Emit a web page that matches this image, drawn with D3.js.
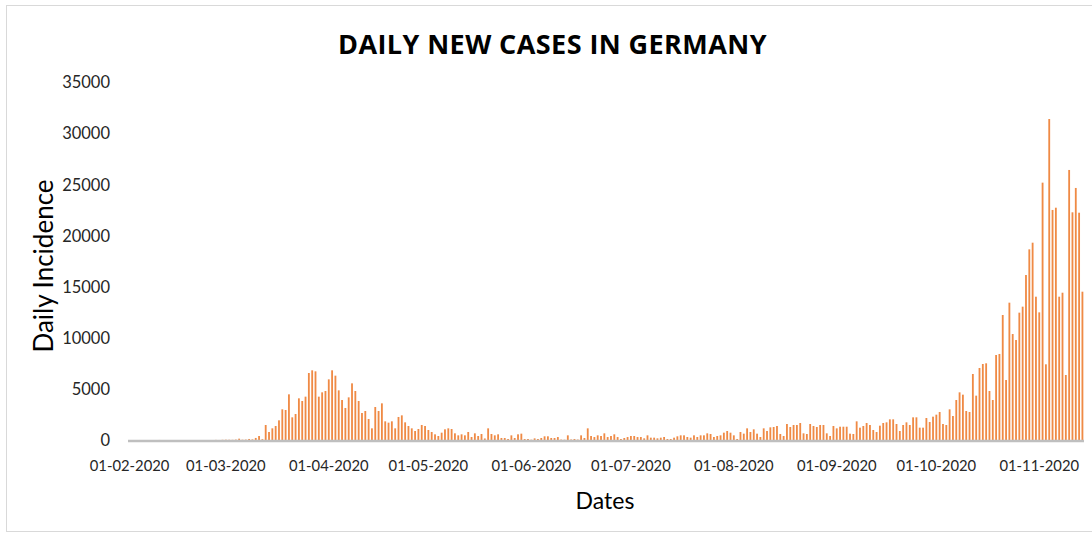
<!DOCTYPE html>
<html>
<head>
<meta charset="utf-8">
<script src="https://cdn.jsdelivr.net/npm/d3@7"></script>
<style>
  body { margin: 0; background: #fff; }
  svg { display: block; }
</style>
</head>
<body>
<svg id="chart" width="1092" height="535"></svg>
<script>
// first day of the series, one value per day after it
const startDate = "2020-02-01";

const dailyCases = [
  // Feb
  0, 0, 0, 1, 0, 0, 0, 0, 0, 3, 0, 0, 0, 0, 0, 0, 0, 0, 0, 0, 0, 0, 0, 0, 0, 0, 10, 2, 20,
  // Mar
  30, 25, 18, 40, 130, 30, 40, 100, 60, 200, 390, 80, 1466, 782, 1140, 1369, 1923, 3000, 2933, 4465,
  2216, 2542, 4074, 3813, 4237, 6550, 6812, 6714, 4237, 4660, 4790,
  // Apr
  5930, 6812, 6290, 4855, 3910, 3130, 4170, 5540, 4790, 3813, 2640, 2835, 2053, 1140, 3226, 2835,
  3585, 1825, 1695, 1825, 1140, 2250, 2410, 1727, 1369, 1140, 880, 1075, 1467, 1369,
  // May
  978, 782, 555, 391, 716, 1043, 1140, 1075, 652, 456, 555, 456, 782, 293, 652, 391, 587, 150,
  1140, 587, 456, 555, 196, 196, 98, 456, 196, 555, 620, 98, 98,
  // Jun
  30, 160, 98, 196, 360, 360, 196, 196, 290, 40, 30, 456, 50, 98, 40, 456, 196, 1140, 391, 290,
  456, 391, 652, 290, 391, 555, 290, 98, 196, 290,
  // Jul
  391, 391, 290, 293, 163, 456, 228, 228, 163, 228, 293, 98, 98, 228, 360, 456, 456, 293, 228, 456,
  293, 456, 456, 652, 587, 293, 391, 456, 716, 880, 716,
  // Aug
  456, 98, 782, 620, 1140, 782, 1043, 620, 293, 1140, 880, 1238, 1271, 1369, 587, 391, 1564, 1271,
  1467, 1467, 1662, 652, 587, 1564, 1369, 1271, 1467, 1467, 652, 391, 1369,
  // Sep
  1140, 1300, 1300, 1300, 620, 587, 1825, 1206, 1369, 1662, 1467, 978, 782, 1400, 1662, 1727, 2020,
  2020, 1564, 880, 1467, 1727, 1467, 2216, 2216, 1206, 1206, 2150, 1760, 2281,
  // Oct
  2477, 2738, 1564, 1467, 2998, 2346, 3910, 4660, 4432, 2835, 2738, 6453, 4334, 7040, 7431, 7497,
  4790, 3910, 8310, 8410, 12220, 5866, 13426, 10360, 9777, 12450, 13036, 16130, 18640, 19290, 14010,
  // Nov
  12480, 25160, 7400, 31380, 22490, 22710, 14010, 14400, 6355, 26400, 22260, 24640, 22220, 14500
];

const yTicks = [0, 5000, 10000, 15000, 20000, 25000, 30000, 35000];
const xTickLabels = ["01-02-2020", "01-03-2020", "01-04-2020", "01-05-2020", "01-06-2020",
  "01-07-2020", "01-08-2020", "01-09-2020", "01-10-2020", "01-11-2020"];

const titleText = "DAILY NEW CASES IN GERMANY";
const xTitle = "Dates";
const yTitle = "Daily Incidence";

const svg = d3.select("#chart");
const font = "Lato, 'Open Sans', sans-serif";

const parseDay = d3.timeParse("%Y-%m-%d");
const fmt = d3.timeFormat("%d-%m-%Y");
const day0 = parseDay(startDate);
const data = dailyCases.map((v, i) => ({ date: d3.timeDay.offset(day0, i), value: v }));

const plot = { left: 128, right: 1084, top: 82, bottom: 440 };

// outer frame
svg.append("rect")
    .attr("x", 6.5).attr("y", 5.5)
    .attr("width", 1092).attr("height", 526)
    .attr("fill", "#fff")
    .attr("stroke", "#d9d9d9");

const x = d3.scaleBand()
    .domain(data.map(d => fmt(d.date)))
    .range([plot.left, plot.right])
    .paddingInner(0.45)
    .paddingOuter(0.2);

const y = d3.scaleLinear()
    .domain([0, 35000])
    .range([plot.bottom, plot.top]);

// bars
svg.append("g")
    .selectAll("rect")
    .data(data)
    .join("rect")
    .attr("x", d => x(fmt(d.date)))
    .attr("y", d => y(d.value))
    .attr("width", x.bandwidth())
    .attr("height", d => y(0) - y(d.value))
    .attr("fill", "#ED7D31")
    .attr("fill-opacity", 0.9);

// baseline
svg.append("line")
    .attr("x1", plot.left).attr("x2", plot.right)
    .attr("y1", y(0) + 1).attr("y2", y(0) + 1)
    .attr("stroke", "#bfbfbf")
    .attr("stroke-width", 2.5);

// y axis labels
const yAxis = svg.append("g")
    .attr("transform", `translate(${plot.left - 18},0)`)
    .call(d3.axisLeft(y).tickValues(yTicks).tickSize(0).tickFormat(d3.format("d")));
yAxis.select(".domain").remove();
yAxis.selectAll("text")
    .attr("x", 0)
    .attr("dy", "0.35em")
    .attr("font-family", font)
    .attr("font-size", "16.5px")
    .attr("fill", "#262626");

// x axis labels, one per month start
const labelDates = xTickLabels.filter(l => x.domain().includes(l));
const xAxis = svg.append("g")
    .attr("transform", `translate(0,${plot.bottom})`)
    .call(d3.axisBottom(x).tickValues(labelDates).tickSize(0).tickPadding(20));
xAxis.select(".domain").remove();
xAxis.selectAll("text")
    .attr("font-family", font)
    .attr("font-size", "14.8px")
    .attr("fill", "#262626");

// titles
svg.append("text")
    .attr("x", 553)
    .attr("y", 54)
    .attr("text-anchor", "middle")
    .attr("font-family", "'Open Sans', sans-serif")
    .attr("font-weight", "bold")
    .attr("font-size", "27px")
    .attr("letter-spacing", "1.5px")
    .attr("textLength", 430)
    .attr("lengthAdjust", "spacing")
    .attr("fill", "#000")
    .text(titleText);

svg.append("text")
    .attr("x", 605)
    .attr("y", 509)
    .attr("text-anchor", "middle")
    .attr("font-family", font)
    .attr("font-size", "23px")
    .attr("fill", "#000")
    .text(xTitle);

svg.append("text")
    .attr("transform", "translate(53,266) rotate(-90)")
    .attr("text-anchor", "middle")
    .attr("font-family", font)
    .attr("font-size", "26px")
    .attr("fill", "#000")
    .text(yTitle);
</script>
</body>
</html>
